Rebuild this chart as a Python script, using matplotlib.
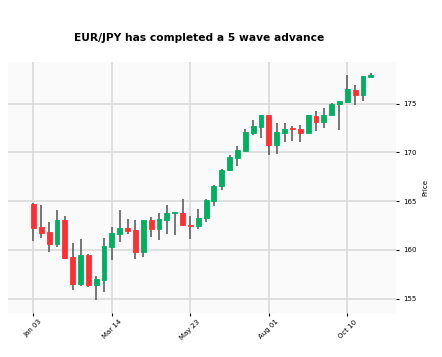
import matplotlib.pyplot as plt
import numpy as np
import pandas as pd

# Weekly EUR/JPY candles
week_start = '2022-01-03'
opens = [164.74, 162.35, 161.80, 160.61, 163.10, 159.24, 156.54, 159.50, 156.44, 156.95,
         160.30, 161.67, 162.21, 162.00, 159.75, 163.03, 162.15, 163.10, 163.75, 163.79,
         162.59, 162.42, 163.28, 164.98, 166.52, 168.16, 169.43, 170.11, 172.00, 172.61,
         173.80, 170.72, 172.00, 172.44, 172.44, 172.00, 173.77, 173.08, 173.87, 174.97,
         175.13, 176.44, 175.92, 177.74]
highs = [164.85, 164.58, 162.87, 164.06, 163.51, 160.71, 161.15, 159.55, 157.36, 161.23,
         162.31, 164.13, 163.17, 163.03, 163.10, 163.34, 163.79, 164.64, 163.90, 165.23,
         163.44, 164.23, 165.20, 166.70, 168.30, 169.77, 170.62, 172.44, 173.29, 173.85,
         173.85, 173.02, 173.02, 172.67, 172.85, 173.85, 174.21, 174.56, 175.10, 175.25,
         177.97, 176.95, 177.87, 178.15]
lows = [160.95, 161.23, 159.75, 160.30, 159.10, 155.92, 156.26, 156.20, 154.83, 155.72,
        159.00, 160.78, 161.64, 159.07, 159.24, 161.29, 161.05, 161.67, 161.56, 162.50,
        161.12, 162.15, 162.83, 164.54, 166.18, 168.07, 168.57, 170.01, 171.82, 171.48,
        169.77, 169.87, 171.03, 171.14, 171.03, 171.95, 172.16, 172.50, 173.80, 172.33,
        175.07, 174.90, 175.24, 177.74]
closes = [162.25, 161.75, 160.64, 163.10, 159.17, 156.54, 159.51, 156.44, 157.02, 160.37,
          161.74, 162.25, 161.97, 159.75, 163.03, 162.18, 163.21, 163.79, 163.85, 162.56,
          162.42, 163.28, 165.15, 166.59, 168.23, 169.53, 170.28, 172.10, 172.67, 173.80,
          170.72, 172.10, 172.44, 172.35, 172.00, 173.80, 173.12, 173.87, 175.00, 175.24,
          176.51, 175.92, 177.80, 177.97]
tick_every = 10

df = pd.DataFrame({'Open': opens, 'High': highs, 'Low': lows, 'Close': closes},
                  index=pd.date_range(week_start, periods=len(opens), freq='7D'))

# yahoo-like colours
up_color = '#00b060'
down_color = '#fe3032'
wick_color = '#606060'

fig = plt.figure(figsize=(4.42, 3.57), dpi=100)
ax = fig.add_axes([8.3 / 442, 1 - 312.7 / 357, (396 - 8.3) / 442, (312.7 - 61.7) / 357])
ax.set_facecolor('#fafafa')
for spine in ax.spines.values():
    spine.set_visible(False)

x = np.arange(len(df))
is_up = df['Close'] >= df['Open']
colors = np.where(is_up, up_color, down_color)
body_low = np.minimum(df['Open'], df['Close'])
body_h = np.maximum(np.abs(df['Close'] - df['Open']), 0.12)

ax.vlines(x, df['Low'], df['High'], color=wick_color, linewidth=1.2, zorder=2)
ax.bar(x, body_h, bottom=body_low, width=0.62, color=colors, edgecolor=colors,
       linewidth=0.6, zorder=3)

ax.set_xlim(-3.2, 46.2)
ax.set_ylim(153.55, 179.3)

# x ticks every 10 weeks, labelled with the date
tick_pos = x[::tick_every]
ax.set_xticks(tick_pos)
ax.set_xticklabels([d.strftime('%b %d') for d in df.index[::tick_every]],
                   rotation=45, ha='center', fontsize=5)
ax.set_yticks([155, 160, 165, 170, 175])

ax.yaxis.tick_right()
ax.yaxis.set_label_position('right')
ax.tick_params(axis='y', labelsize=5, length=2.5, width=0.8, pad=2.5, colors='black')
ax.tick_params(axis='x', length=2.2, width=0.8, pad=2)
ax.set_ylabel('Price', fontsize=5, labelpad=4)

ax.grid(True, color='#d8d8d8', linestyle='-', linewidth=1.1, zorder=0)
ax.set_axisbelow(True)

fig.text(199 / 442, 1 - 38 / 357, 'EUR/JPY has completed a 5 wave advance',
         ha='center', va='center', fontsize=7.7, fontweight='bold')

fig.savefig('out.png', dpi=100, facecolor='white')
